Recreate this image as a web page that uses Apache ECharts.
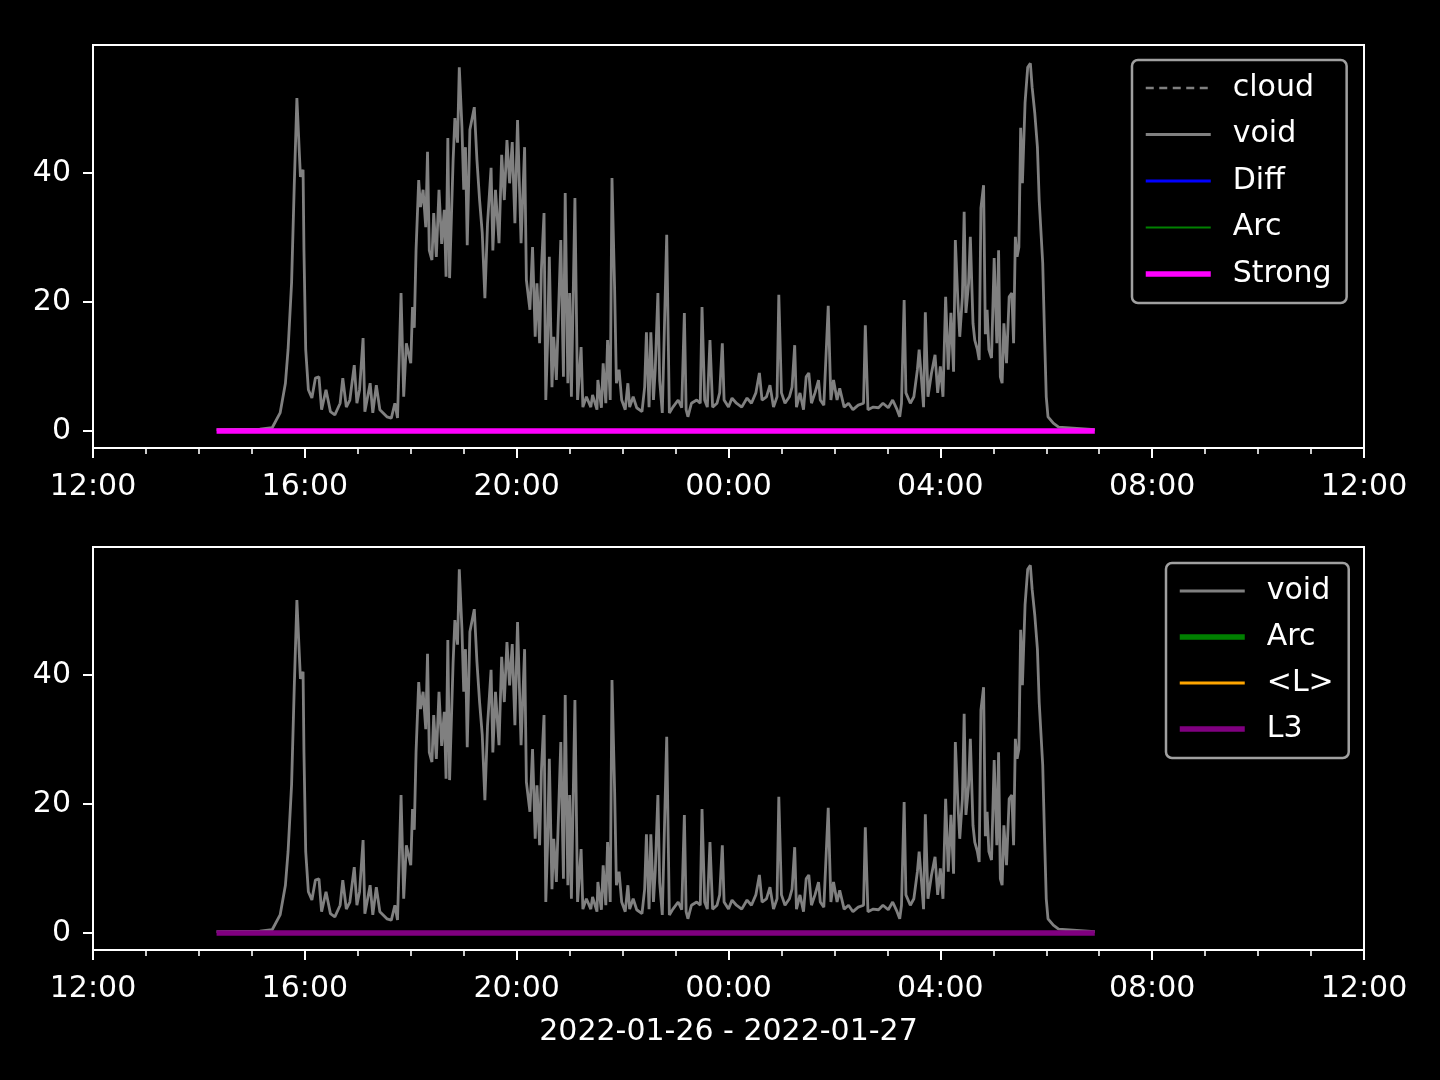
<!DOCTYPE html>
<html><head><meta charset="utf-8">
<script src="https://cdn.jsdelivr.net/npm/echarts@6/dist/echarts.min.js"></script>
<style>html,body{margin:0;background:#000}#c{width:1440px;height:1080px}</style>
</head><body><div id="c"></div>
<script>
// ---- data ----
const baseTime = '2022-01-26T12:00:00Z';          // x axis starts here (UTC)
const xLabel = '2022-01-26 - 2022-01-27';
const yTickValues = [0, 20, 40];
// minutes after baseTime
const voidMinutes = [
  140,189,203,212,218,221,225,228,231,235,
  238,239,241,244,248,252,256,259,264,269,
  274,280,283,287,291,296,299,302,306,308,
  314,317,321,325,333,338,342,345,349,352,
  355,360,362,364,366,369,371,374,377,379,
  381,384,386,389,392,395,398,400,402,404,
  408,410,413,415,418,420,422,424,427,432,
  435,438,441,444,447,451,453,456,460,463,
  466,469,472,475,478,481,485,489,491,495,
  498,501,503,506,508,511,513,515,517,520,
  522,525,530,533,535,538,540,542,546,549,
  553,555,559,564,566,571,572,576,578,581,
  583,586,588,591,593,596,599,603,606,608,
  612,616,622,625,627,630,632,635,637,640,
  642,645,650,653,657,663,667,670,672,674,
  678,684,688,690,693,696,699,702,707,710,
  713,715,720,724,729,735,741,746,751,755,
  758,763,767,771,775,777,780,784,789,792,
  795,797,801,805,808,811,814,818,822,824,
  828,833,836,839,843,846,851,856,861,867,
  873,875,878,884,890,895,901,906,911,914,
  916,919,921,926,930,934,936,939,941,943,
  946,950,954,957,960,963,966,969,972,975,
  977,980,982,985,987,989,992,994,997,999,
  1002,1004,1006,1009,1011,1013,1015,1018,1021,1024,
  1026,1028,1030,1032,1035,1038,1041,1043,1045,1047,
  1049,1051,1053,1056,1059,1062,1064,1067,1070,1072,
  1076,1078,1080,1082,1088,1094,1096,1135
];
const voidValues = [
  0.2,0.3,0.5,2.8,7.4,12.6,23,38,51.6,39.4,
  40.5,28,12.6,6.4,5.1,8.2,8.4,3.3,6.4,3,
  2.5,4.3,8.2,3.7,4.8,10.2,4.3,6.4,14.4,3,
  7.4,2.8,7.1,3.3,2.2,2,4.3,2,21.4,5.3,
  13.6,10.5,19.2,16,28,38.9,34.7,37.4,31.6,43.3,
  28,26.5,33.8,27,37.4,29,34.3,23.9,45.4,23.7,
  42,48.5,44.7,56.4,47.1,37.4,44,28.8,46.7,50.2,
  42,35.8,30.7,20.6,32.2,40.8,28,37.4,29.1,42.8,
  35.8,45.1,38.4,44.8,32.2,48.2,29.1,44,23.4,18.8,
  28.5,14.6,22.9,13.6,25,33.8,4.8,13.6,27,6.8,
  14.6,7.9,29.6,8.4,36.9,7.4,21.4,5.3,36.1,4.8,
  13,3.7,5.3,3.7,5.6,3.3,7.9,3.6,10.5,4.3,
  14.1,4.8,39.2,21.9,7.4,9.5,4.8,3.3,7.4,3.7,
  5.3,3.6,3,6.8,15.3,3.7,15.3,4.8,9.5,21.4,
  7.9,2.8,30.4,2.8,3.7,4.8,3.6,18.3,3.3,2.2,
  4.3,4.8,4.3,19.2,4.8,3.7,14.1,3.7,4.3,5.9,
  13.6,4.8,3.7,5.1,4.3,3.7,5.1,4.3,5.9,9,
  4.8,5.3,7.1,3.7,5.3,21.1,5.9,4.3,5.3,6.8,
  13.3,3.7,5.9,3.3,8.4,9,4.3,5.9,7.9,4.8,
  4,19.4,4.8,7.9,4.8,6.6,3.7,4.3,3.3,4,
  4.3,16.4,3.3,3.7,3.6,4.3,3.6,4.8,3.3,2.2,
  4.3,20.3,5.9,4.3,5.3,9.5,12.6,7.4,3.7,18.4,
  5.3,9,11.8,5.9,10,5.3,20.8,9.5,18.3,9.2,
  29.6,19.8,14.6,20.8,34,18.3,22.9,30.1,16.7,14.1,
  12.6,11,34.6,38.1,15,18.8,12.6,11.3,26.8,13.6,
  28,8.4,7.4,16.7,10.5,20.8,21.4,13.6,30.1,27,
  28.5,47,38.4,50.9,56.4,57,53.3,49.3,44,35.8,
  26,15.2,5.3,2.2,1.2,0.6,0.5,0.2
];
const strongMinutes = [140, 1135];
const strongValues = [0, 0];
const l3Minutes = [140, 1135];
const l3Values = [0, 0];
// legend-only series (nothing visible in the plot)
const cloudValues = [], diffValues = [], arcValues = [], meanLValues = [];

// ---- chart ----
const FONT = 'DejaVu Sans';
const MIN = 60000;
const t0 = Date.parse(baseTime);
const pairs = (mins, vals) => mins.map((m, i) => [t0 + m * MIN, vals[i]]);
const hhmm = v => { const d = new Date(v); return String(d.getUTCHours()).padStart(2, '0') + ':' + String(d.getUTCMinutes()).padStart(2, '0'); };

function xAxisCfg(gi, named) {
  return {
    type: 'value', gridIndex: gi, position: 'bottom', min: t0, max: t0 + 24 * 60 * MIN, interval: 4 * 60 * MIN,
    axisLine: { show: false, onZero: false }, splitLine: { show: false },
    axisTick: { show: true, inside: false, length: 10, lineStyle: { color: '#fff', width: 2 } },
    minorTick: { show: true, splitNumber: 4, length: 6, lineStyle: { color: '#fff', width: 1.6 } },
    minorSplitLine: { show: false },
    axisLabel: { color: '#fff', fontSize: 30, fontFamily: FONT, margin: 24, formatter: hhmm },
    name: named ? xLabel : '', nameLocation: 'middle', nameGap: 67,
    nameTextStyle: { color: '#fff', fontSize: 30, fontFamily: FONT }
  };
}
function yAxisCfg(gi) {
  return {
    type: 'value', gridIndex: gi, position: 'left', min: -2.64, max: 59.84,
    axisLine: { show: false, onZero: false }, splitLine: { show: false },
    axisTick: { show: true, inside: false, length: 10, customValues: yTickValues, lineStyle: { color: '#fff', width: 2 } },
    axisLabel: { color: '#fff', fontSize: 30, fontFamily: FONT, margin: 22, customValues: yTickValues }
  };
}
function line(name, gi, data, color, width, type) {
  return { name, type: 'line', xAxisIndex: gi, yAxisIndex: gi, data, symbol: 'none', showSymbol: false,
    lineStyle: { color, width, type: type || 'solid' }, itemStyle: { color }, z: 2 };
}
const legendBase = {
  orient: 'vertical', itemWidth: 65, itemHeight: 14, itemGap: 14.5,
  textStyle: { color: '#fff', fontSize: 30, fontFamily: FONT, lineHeight: 32, padding: [0, 0, 0, 17] },
  borderColor: '#a0a0a0', borderWidth: 2.5, borderRadius: 6, backgroundColor: '#000',
  padding: [12, 15, 13, 11], itemStyle: { opacity: 0 }, selectedMode: false
};

const option = {
  backgroundColor: '#000', animation: false,
  grid: [
    { left: 93, top: 45, width: 1271, height: 403, show: true, borderColor: '#fff', borderWidth: 2, backgroundColor: 'transparent' },
    { left: 93, top: 547, width: 1271, height: 403, show: true, borderColor: '#fff', borderWidth: 2, backgroundColor: 'transparent' }
  ],
  xAxis: [xAxisCfg(0, false), xAxisCfg(1, true)],
  yAxis: [yAxisCfg(0), yAxisCfg(1)],
  legend: [
    Object.assign({}, legendBase, { left: 1132, top: 60, data: [
      { name: 'cloud', lineStyle: { width: 2.5, type: [8, 5.5], color: '#808080' } },
      { name: 'void', lineStyle: { width: 2.8 } },
      { name: 'Diff', lineStyle: { width: 2.8 } },
      { name: 'Arc', lineStyle: { width: 2.2 } },
      { name: 'Strong', lineStyle: { width: 5.5 } }
    ] }),
    Object.assign({}, legendBase, { left: 1166, top: 563, itemGap: 14, data: [
      { name: 'void', lineStyle: { width: 2.8 } },
      { name: 'Arc', lineStyle: { width: 5.5 } },
      { name: '<L>', lineStyle: { width: 2.8 } },
      { name: 'L3', lineStyle: { width: 5.5 } }
    ] })
  ],
  series: [
    line('cloud', 0, cloudValues, '#808080', 2.5, [8, 5.5]),
    line('void', 0, pairs(voidMinutes, voidValues), '#808080', 2.8),
    line('Diff', 0, diffValues, '#0000ff', 2.5),
    line('Arc', 0, arcValues, '#008000', 2.2),
    line('Strong', 0, pairs(strongMinutes, strongValues), '#ff00ff', 5.5),
    line('void', 1, pairs(voidMinutes, voidValues), '#808080', 2.8),
    line('Arc', 1, arcValues, '#008000', 5.5),
    line('<L>', 1, meanLValues, '#ffa500', 2.5),
    line('L3', 1, pairs(l3Minutes, l3Values), '#800080', 5.5)
  ]
};
const chart = echarts.init(document.getElementById('c'), null, { renderer: 'canvas' });
chart.setOption(option);
</script></body></html>
